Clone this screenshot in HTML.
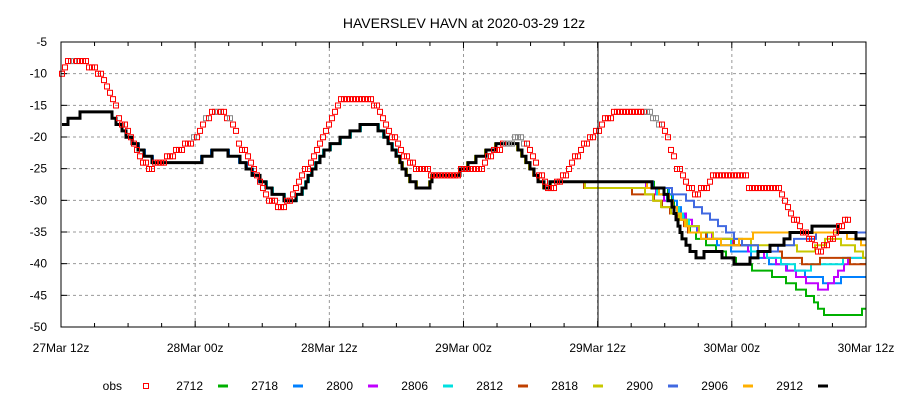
<!DOCTYPE html>
<html><head><meta charset="utf-8"><style>
html,body{margin:0;padding:0;background:#fff;}
svg{display:block;font-family:"Liberation Sans",sans-serif;}
</style></head><body>
<svg id="s" width="900" height="400" viewBox="0 0 900 400" xmlns="http://www.w3.org/2000/svg">
<rect width="900" height="400" fill="#fff"/>
<text x="464" y="28" font-size="14" text-anchor="middle">HAVERSLEV HAVN at 2020-03-29 12z</text>
<g id="grid"></g>
<g id="series"></g>
<g id="obs"></g>
<rect x="61" y="42" width="805" height="285" fill="none" stroke="#000" stroke-width="1"/>
<line x1="598" y1="42" x2="598" y2="327" stroke="#000" stroke-width="1"/>
<g id="lab" font-size="12"></g>
<g id="leg" font-size="12"></g>
</svg>
<script>
var NS="http://www.w3.org/2000/svg";
function el(t,a,p){var e=document.createElementNS(NS,t);for(var k in a)e.setAttribute(k,a[k]);document.getElementById(p).appendChild(e);return e;}
function Y(v){return 42+(-5-v)*6.35;}
for(var i=1;i<9;i++){var y=42+i*285/9;el("line",{x1:61,x2:866,y1:y,y2:y,stroke:"#999","stroke-dasharray":"3,3","stroke-width":1},"grid");}
for(var i=1;i<6;i++){var x=61+i*134.17;el("line",{x1:x,x2:x,y1:42,y2:327,stroke:"#999","stroke-dasharray":"3,3","stroke-width":1},"grid");}
for(var i=0;i<=24;i++){var x=61+i*33.54;var l=(i%4==0)?6:4;
el("line",{x1:x,x2:x,y1:327,y2:327-l,stroke:"#000"},"grid");el("line",{x1:x,x2:x,y1:42,y2:42+l,stroke:"#000"},"grid");}
for(var i=0;i<=9;i++){var y=42+i*285/9;el("line",{x1:61,x2:67,y1:y,y2:y,stroke:"#000"},"grid");el("line",{x1:860,x2:866,y1:y,y2:y,stroke:"#000"},"grid");
var t=el("text",{x:47,y:y+4,"text-anchor":"end"},"lab");t.textContent=String(-5-5*i);}
var xl=["27Mar 12z","28Mar 00z","28Mar 12z","29Mar 00z","29Mar 12z","30Mar 00z","30Mar 12z"];
for(var i=0;i<7;i++){var t=el("text",{x:61+i*134.17,y:352,"text-anchor":"middle"},"lab");t.textContent=xl[i];}
function interp(pts,x){if(x<=pts[0][0])return pts[0][1];for(var i=1;i<pts.length;i++){if(x<=pts[i][0]){var a=pts[i-1],b=pts[i];return a[1]+(b[1]-a[1])*(x-a[0])/(b[0]-a[0]);}}return pts[pts.length-1][1];}
function step(pts,x0,x1,col,w){var d="",prev=null;for(var x=x0;x<=x1;x+=2){var v=Math.round(interp(pts,x));var y=Y(v);
if(prev===null)d="M"+x+","+y;else if(v!=prev)d+="L"+x+","+Y(prev)+"L"+x+","+y;prev=v;}d+="L"+x1+","+Y(prev);
el("path",{d:d,fill:"none",stroke:col,"stroke-width":w},"series");}
var blk=[[62,-18],[72,-17],[88,-16],[108,-16],[118,-18],[128,-20],[140,-22],[155,-24],[200,-24],[202,-23],[220,-22],[235,-23],[255,-26],[275,-29],[292,-30],[300,-29],[312,-25],[325,-22],[345,-20],[365,-18],[375,-18],[390,-21],[410,-27],[420,-28],[428,-28],[432,-26],[455,-26],[470,-24],[490,-22],[500,-21],[515,-21],[530,-25],[545,-28],[555,-27],[640,-27],[662,-28],[672,-31],[682,-36],[690,-38],[700,-39],[705,-38],[718,-38],[722,-39],[745,-40],[760,-38],[780,-37],[792,-35],[830,-34],[845,-35],[866,-36]];
function mod(tail){var b=blk.filter(function(p){return p[0]<610;});return b.concat(tail);}
var S=[
["#00b000",62,mod([[640,-27],[665,-28],[690,-35],[720,-38],[740,-40],[780,-42],[810,-45],[825,-48],[855,-48],[866,-47]])],
["#0080ff",129,mod([[640,-27],[665,-28],[690,-34],[720,-37],[760,-39],[795,-41],[830,-43],[850,-42],[866,-42]])],
["#c000ff",196,mod([[640,-27],[668,-30],[700,-35],[740,-37],[770,-39],[810,-43],[825,-44],[835,-42],[850,-39],[866,-39]])],
["#00e0e0",263,mod([[640,-27],[670,-30],[690,-34],[720,-36],[760,-38],[800,-41],[820,-40],[866,-39]])],
["#c04000",330,mod([[612,-28],[650,-29],[680,-33],[690,-35],[720,-36],[770,-38],[810,-40],[830,-39],[866,-40]])],
["#c8c800",397,mod([[612,-28],[640,-28],[690,-34],[720,-36],[780,-37],[810,-38],[830,-36],[850,-37],[866,-39]])],
["#4169e1",464,mod([[640,-27],[680,-29],[720,-34],[745,-37],[770,-38],[800,-36],[830,-35],[866,-35]])],
["#ffb000",531,mod([[640,-27],[665,-29],[690,-35],[730,-37],[760,-35],[800,-35],[840,-35],[866,-37]])]
];
S.forEach(function(s){step(s[2],s[1],866,s[0],2);});
step(blk,62,866,"#000",3);
var ob=[[62,-10],[70,-8],[85,-8],[100,-10],[110,-13],[120,-17],[130,-20],[140,-23],[150,-25],[160,-24],[170,-23],[180,-22],[190,-21],[200,-19],[212,-16],[225,-16],[235,-19],[240,-21],[250,-24],[260,-27],[270,-30],[280,-31],[290,-30],[300,-27],[310,-24],[320,-21],[330,-18],[342,-14],[370,-14],[380,-16],[390,-19],[400,-22],[410,-24],[420,-25],[440,-26],[480,-25],[490,-23],[505,-21],[520,-20],[530,-22],[540,-26],[550,-28],[560,-27],[570,-25],[580,-22],[590,-20],[598,-19],[605,-17],[620,-16],[630,-15.5],[645,-16],[655,-17],[665,-19],[675,-24],[685,-27],[695,-29],[705,-28],[715,-26],[745,-26],[750,-28],[780,-28],[785,-30],[795,-33],[810,-36],[820,-38],[828,-37],[840,-34],[850,-33]];
for(var x=62;x<=850;x+=3){var v=Math.round(interp(ob,x));var g=(x>=190&&x<=240&&x%12==2)||(x>=505&&x<=525)||(x>=645&&x<=660)||(x>=62&&x<=85&&x%8==2);
el("rect",{x:x-2.5,y:Y(v)-2.5,width:5,height:5,fill:"none",stroke:g?"#888":"#f00","stroke-width":1},"obs");}
var L=[["obs",null],["2712","#00b000"],["2718","#0080ff"],["2800","#c000ff"],["2806","#00e0e0"],["2812","#c04000"],["2818","#c8c800"],["2900","#4169e1"],["2906","#ffb000"],["2912","#000"]];
for(var i=0;i<L.length;i++){var tx=i==0?122:203+(i-1)*75;var mx=i==0?146:223+(i-1)*75;
el("text",{x:tx,y:390,"text-anchor":"end"},"leg").textContent=L[i][0];
if(L[i][1])el("line",{x1:mx-5,x2:mx+5,y1:386,y2:386,stroke:L[i][1],"stroke-width":3},"leg");
else el("rect",{x:mx-2.5,y:383.5,width:5,height:5,fill:"none",stroke:"#f00"},"leg");}
</script>
</body></html>
